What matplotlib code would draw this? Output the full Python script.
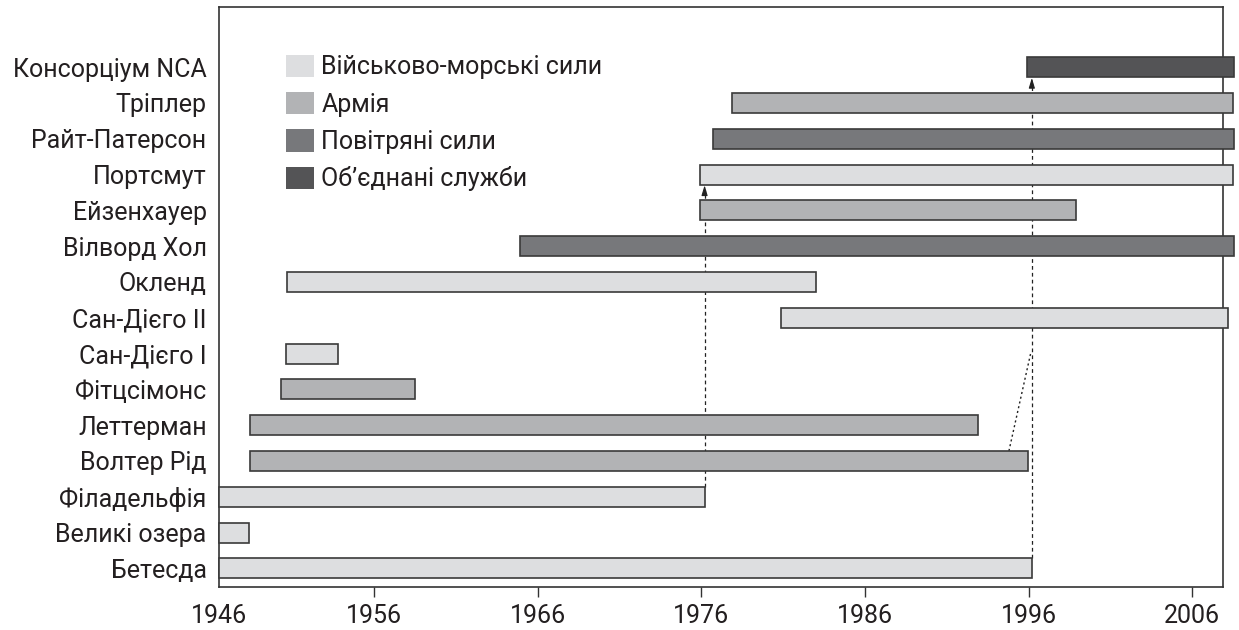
import matplotlib
matplotlib.use('Agg')
import matplotlib.pyplot as plt
from matplotlib.patches import Patch

plt.rcParams['font.family'] = ['Roboto', 'DejaVu Sans']

# rows from bottom to top
sites = ['Бетесда', 'Великі озера', 'Філадельфія', 'Волтер Рід', 'Леттерман',
         'Фітцсімонс', 'Сан-Дієго I', 'Сан-Дієго II', 'Окленд', 'Вілворд Хол',
         'Ейзенхауер', 'Портсмут', 'Райт-Патерсон', 'Тріплер', 'Консорціум NCA']
start = [1946.5, 1946.5, 1946.5, 1948.4, 1948.4, 1950.3, 1950.6, 1980.9, 1950.7,
         1964.9, 1975.9, 1975.9, 1976.7, 1977.9, 1995.9]
end = [1996.2, 1948.35, 1976.2, 1995.95, 1992.9, 1958.5, 1953.8, 2008.2, 1983.0,
       2008.55, 1998.9, 2008.5, 2008.55, 2008.5, 2008.55]
service = ['navy', 'navy', 'navy', 'army', 'army', 'army', 'navy', 'navy', 'navy',
           'air', 'army', 'navy', 'air', 'army', 'joint']

services = ['navy', 'army', 'air', 'joint']
service_names = ['Військово-морські сили', 'Армія', 'Повітряні сили', 'Об’єднані служби']
service_colors = {'navy': '#dddee0', 'army': '#b2b3b5', 'air': '#77787b', 'joint': '#545456'}

# transfers: (from row, to row) drawn at the end year of the source
transfers = [(2, 11), (0, 14)]
# dotted link from Walter Reed toward the NCA line
link_x = [1994.8, 1996.15]
link_y = [3.28, 6.05]

tick_years = [1946, 1956, 1966, 1976, 1986, 1996, 2006]

text_color = '#231f20'
edge = '#3a3a3a'
bar_h = 0.56

fig = plt.figure(figsize=(12.39, 6.3), dpi=100)
ax = fig.add_axes([0.1768, 0.0683, 0.81, 0.9206])

for i in range(len(sites)):
    ax.barh(i, end[i] - start[i], left=start[i], height=bar_h,
            color=service_colors[service[i]], edgecolor=edge, linewidth=1.2,
            zorder=3, clip_on=False)

# dashed transfer arrows
for a, b in transfers:
    x = end[a]
    y0 = a + bar_h / 2
    y1 = b - bar_h / 2
    ax.plot([x, x], [y0, y1 - 0.15], ls=(0, (3, 2.5)), lw=0.9, color='#222222', zorder=1)
    ax.annotate('', xy=(x, y1 - 0.02), xytext=(x, y1 - 0.25),
                arrowprops=dict(arrowstyle='-|>,head_length=0.6,head_width=0.18',
                                lw=0.8, color='#222222', shrinkA=0, shrinkB=0),
                zorder=4)

ax.plot(link_x, link_y, ls=(0, (1.5, 2)), lw=1.0, color='#222222', zorder=1)

ax.set_xlim(1946.53, 2007.86)
ax.set_ylim(-0.52, 15.68)

ax.set_yticks(range(len(sites)))
ax.set_yticklabels(sites, fontsize=18, color=text_color)
ax.tick_params(axis='y', length=0, pad=9)

xt = [1946.53] + tick_years[1:]
ax.set_xticks(xt)
ax.set_xticklabels([str(y) for y in tick_years], fontsize=18, color=text_color)
ax.tick_params(axis='x', direction='out', length=7, width=1, color='#333333', pad=5)
ax.xaxis.get_major_ticks()[0].tick1line.set_visible(False)

for s in ax.spines.values():
    s.set_color('#333333')
    s.set_linewidth(1.2)

handles = [Patch(facecolor=service_colors[s], edgecolor='none') for s in services]
leg = ax.legend(handles, service_names, loc='upper left', bbox_to_anchor=(0.057, 0.935),
                frameon=False, fontsize=18, handlelength=1.1, handleheight=1.0,
                handletextpad=0.3, labelspacing=0.5, borderaxespad=0)
for t in leg.get_texts():
    t.set_color(text_color)

fig.savefig('out.png', dpi=100)
